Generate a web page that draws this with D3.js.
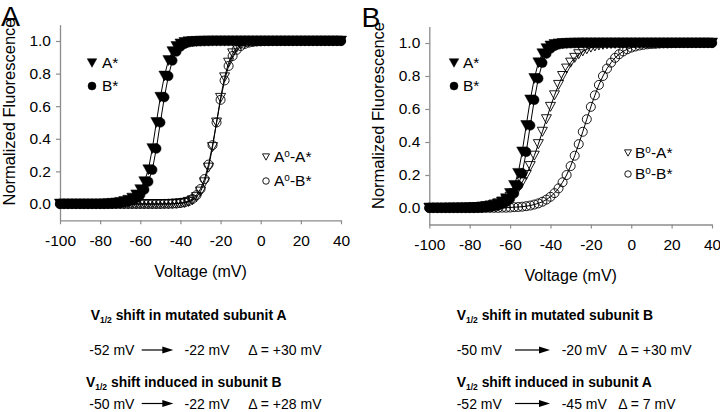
<!DOCTYPE html>
<html><head><meta charset="utf-8">
<script src="https://cdn.jsdelivr.net/npm/d3@7"></script>
<style>
body{margin:0;background:#fff}
svg{display:block}
text{font-family:"Liberation Sans",Arial,sans-serif;fill:#000}
</style>
</head><body>
<svg id="c" width="720" height="412"></svg>
<script>
// ---------------- DATA ----------------
const voltage = [
-100,-98,-96,-94,-92,-90,-88,-86,-84,-82,
-80,-78,-76,-74,-72,-70,-68,-66,-64,-62,
-60,-58,-56,-54,-52,-50,-48,-46,-44,-42,
-40,-38,-36,-34,-32,-30,-28,-26,-24,-22,
-20,-18,-16,-14,-12,-10,-8,-6,-4,-2,
0,2,4,6,8,10,12,14,16,18,
20,22,24,26,28,30,32,34,36,38,
40];
// wild-type: A* and B*
const A_star = [
0,0,0,0,0,0,0,0,0,0,
0,0.001,0.002,0.004,0.006,0.010,0.015,0.023,0.036,0.056,
0.088,0.137,0.21,0.34,0.5,0.655,0.785,0.88,0.935,0.966,
0.982,0.991,0.995,0.997,0.998,0.999,0.999,1,1,1,
1,1,1,1,1,1,1,1,1,1,
1,1,1,1,1,1,1,1,1,1,
1,1,1,1,1,1,1,1,1,1,
1];
const B_star = [
0,0,0,0,0,0,0,0,0,0,
0,0,0.001,0.002,0.004,0.006,0.010,0.015,0.023,0.036,
0.056,0.088,0.137,0.21,0.34,0.5,0.655,0.785,0.88,0.935,
0.966,0.982,0.991,0.995,0.997,0.998,0.999,0.999,1,1,
1,1,1,1,1,1,1,1,1,1,
1,1,1,1,1,1,1,1,1,1,
1,1,1,1,1,1,1,1,1,1,
1];
// panel A: mutated subunit A
const Ao_A_star = [
0,0,0,0,0,0,0,0,0,0,
0,0,0,0,0,0,0,0,0,0,
0,0,0,0,0,0,0,0,0.001,0.002,
0.004,0.007,0.013,0.023,0.042,0.076,0.133,0.223,0.349,0.5,
0.651,0.777,0.867,0.924,0.958,0.977,0.987,0.993,0.996,0.998,
0.999,0.999,1,1,1,1,1,1,1,1,
1,1,1,1,1,1,1,1,1,1,
1];
const Ao_B_star = [
0,0,0,0,0,0,0,0,0,0,
0,0,0,0,0,0,0,0,0,0,
0,0,0,0,0,0,0.001,0.001,0.002,0.003,
0.006,0.010,0.018,0.031,0.054,0.092,0.153,0.242,0.361,0.5,
0.639,0.758,0.847,0.908,0.946,0.969,0.982,0.990,0.994,0.997,
0.998,0.999,0.999,1,1,1,1,1,1,1,
1,1,1,1,1,1,1,1,1,1,
1];
// panel B: mutated subunit B
const Bo_A_star = [
0,0,0,0,0,0.001,0.001,0.001,0.002,0.002,
0.003,0.005,0.006,0.008,0.011,0.015,0.021,0.028,0.038,0.051,
0.068,0.090,0.119,0.156,0.200,0.254,0.317,0.387,0.462,0.538,
0.613,0.683,0.746,0.800,0.845,0.881,0.910,0.932,0.949,0.962,
0.972,0.979,0.985,0.989,0.992,0.994,0.995,0.997,0.998,0.998,
0.999,0.999,1,1,1,1,1,1,1,1,
1,1,1,1,1,1,1,1,1,1,
1];
const Bo_B_star = [
0,0,0,0,0,0,0,0,0,0,
0,0,0,0,0.001,0.001,0.001,0.001,0.002,0.002,
0.003,0.005,0.006,0.008,0.011,0.015,0.021,0.028,0.038,0.051,
0.068,0.090,0.119,0.156,0.200,0.254,0.317,0.387,0.462,0.538,
0.613,0.683,0.746,0.800,0.845,0.881,0.910,0.932,0.949,0.962,
0.972,0.979,0.985,0.989,0.992,0.994,0.995,0.997,0.998,0.998,
0.999,0.999,1,1,1,1,1,1,1,1,
1];
const xTicks = [-100,-80,-60,-40,-20,0,20,40];
const yTicks = [0,0.2,0.4,0.6,0.8,1.0];
const xTitle = "Voltage (mV)";
const yTitle = "Normalized Fluorescence";
const legendA = ["A*","B*","A°-A*","A°-B*"];
const legendB = ["A*","B*","B°-A*","B°-B*"];
const shiftTitlesA = ["shift in mutated subunit A","shift induced in subunit B"];
const shiftValuesA = [["-52 mV","-22 mV","\u0394 = +30 mV"],["-50 mV","-22 mV","\u0394 = +28 mV"]];
const shiftTitlesB = ["shift in mutated subunit B","shift induced in subunit A"];
const shiftValuesB = [["-50 mV","-20 mV","\u0394 = +30 mV"],["-52 mV","-45 mV","\u0394 = 7 mV"]];

[A_star,B_star,Ao_A_star,Ao_B_star,Bo_A_star,Bo_B_star].forEach(a=>{if(a.length!==voltage.length) throw new Error("len "+a.length);});

// ---------------- DRAW ----------------
const svg = d3.select("#c");
const FS = 15.5;
const triDown = (w,h)=>`M${-w/2},${-h/2}L${w/2},${-h/2}L0,${h/2}Z`;
const circ = r=>`M${-r},0A${r},${r} 0 1,0 ${r},0A${r},${r} 0 1,0 ${-r},0Z`;

function marker(g, type, filled, x, y, s){
  const d = type==="tri" ? triDown(s, s*0.9) : circ(s/2);
  g.append("path").attr("d",d).attr("transform",`translate(${x},${y})`)
   .attr("fill", filled? "#000":"none").attr("stroke","#000").attr("stroke-width", filled?0.5:0.9);
}

function drawPanel(p){
  const x = d3.scaleLinear().domain([-100,40]).range([p.x0,p.x1]);
  const y = d3.scaleLinear().domain([-0.1,1.1]).range([p.yb,p.yt]);
  const g = svg.append("g");

  const xa = g.append("g").attr("transform",`translate(0,${p.yb})`)
    .call(d3.axisBottom(x).tickValues(xTicks).tickSize(4).tickSizeOuter(0).tickFormat(d=>String(d)));
  xa.selectAll("text").attr("y",20).attr("dy","0.35em").attr("font-size",FS).attr("font-family",null);
  const ya = g.append("g").attr("transform",`translate(${p.x0},0)`)
    .call(d3.axisLeft(y).tickValues(yTicks).tickSize(4).tickSizeOuter(0).tickPadding(5).tickFormat(d3.format(".1f")));
  ya.selectAll("text").attr("font-size",FS).attr("font-family",null);
  [xa,ya].forEach(a=>{a.select(".domain").attr("stroke","#8c8c8c").attr("stroke-width",1.3);
    a.selectAll(".tick line").attr("stroke","#8c8c8c").attr("stroke-width",1.2);});

  g.append("text").attr("x",(p.x0+p.x1)/2).attr("y",p.yb+51).attr("dy","0.35em")
    .attr("text-anchor","middle").attr("font-size",16).text(xTitle);
  g.append("text").attr("transform",`translate(${p.x0-51},${p.ylabC}) rotate(-90)`).attr("dy","0.35em")
    .attr("text-anchor","middle").attr("font-size",16.5).text(yTitle);
  g.append("text").attr("x",p.lx).attr("y",p.ly).attr("font-size",28.5).text(p.label);

  const line = d3.line().x((d,i)=>x(voltage[i])).y(d=>y(d));
  p.series.forEach(s=>{
    g.append("path").attr("d",line(s.values)).attr("fill","none").attr("stroke","#000").attr("stroke-width",1);
  });
  const order = p.series.filter(s=>!s.filled).concat(p.series.filter(s=>s.filled));
  order.forEach(s=>{
    const mg = g.append("g");
    s.values.forEach((v,i)=>marker(mg, s.type, s.filled, x(voltage[i]), y(v), s.type==="tri"?(s.filled?11:10):(s.filled?9.5:9)));
  });

  // legends
  p.legend.forEach((L,k)=>{
    const s = p.series[k];
    marker(g, s.type, s.filled, L.mx, L.y, s.filled ? (s.type==="tri"?9.5:8) : (s.type==="tri"?7:6.5));
    const t = g.append("text").attr("x",L.tx).attr("y",L.y).attr("dy","0.35em").attr("font-size",FS);
    const name = p.names[k];
    if(name.includes("°")){
      const parts = name.split("°");
      t.append("tspan").text(parts[0]);
      t.append("tspan").attr("dy",-5.5).attr("font-size",10).text("o");
      t.append("tspan").attr("dy",5.5).text(parts[1]);
    } else t.text(name);
  });
}

drawPanel({label:"A", lx:1, ly:26, x0:60, x1:341, yt:24.7, yb:220.3, ylabC:112, names:legendA,
  series:[{values:A_star,type:"tri",filled:true},{values:B_star,type:"circ",filled:true},
          {values:Ao_A_star,type:"tri",filled:false},{values:Ao_B_star,type:"circ",filled:false}],
  legend:[{mx:92,tx:102,y:63},{mx:92,tx:102,y:86},{mx:266,tx:274,y:157},{mx:266,tx:274,y:181}]});
drawPanel({label:"B", lx:361.5, ly:26.5, x0:429.3, x1:712, yt:26.5, yb:224.5, ylabC:115.5, names:legendB,
  series:[{values:A_star,type:"tri",filled:true},{values:B_star,type:"circ",filled:true},
          {values:Bo_A_star,type:"tri",filled:false},{values:Bo_B_star,type:"circ",filled:false}],
  legend:[{mx:454,tx:463,y:63},{mx:454,tx:463,y:86},{mx:628,tx:635,y:153},{mx:628,tx:635,y:174}]});

// bottom V1/2 text blocks
function vTitle(x, base, rest){
  const t = svg.append("text").attr("x",x).attr("y",base).attr("font-weight","bold").attr("font-size",13.9);
  t.append("tspan").text("V");
  t.append("tspan").attr("font-size",8.5).attr("dy",3).text("1/2");
  t.append("tspan").attr("dy",-3).text(" "+rest);
}
function vRow(base, xs, vals){
  svg.append("text").attr("x",xs[0]).attr("y",base).attr("font-size",14).text(vals[0]);
  const ay = base-5;
  svg.append("line").attr("x1",xs[1]).attr("x2",xs[2]-8).attr("y1",ay).attr("y2",ay).attr("stroke","#000").attr("stroke-width",1.2);
  svg.append("path").attr("d",`M${xs[2]-11},${ay-3.5}L${xs[2]},${ay}L${xs[2]-11},${ay+3.5}Z`).attr("fill","#000");
  svg.append("text").attr("x",xs[3]).attr("y",base).attr("font-size",14).text(vals[1]);
  svg.append("text").attr("x",xs[4]).attr("y",base).attr("font-size",14).text(vals[2]);
}
vTitle(90.7, 320, shiftTitlesA[0]);
vRow(355, [89.3,141.7,173.3,184.5,248.3], shiftValuesA[0]);
vTitle(86, 386.7, shiftTitlesA[1]);
vRow(408.5, [89.3,141.7,173.3,184.5,248.3], shiftValuesA[1]);
vTitle(456.7, 320, shiftTitlesB[0]);
vRow(355, [456.7,515,550,561.7,618.3], shiftValuesB[0]);
vTitle(456.7, 386.7, shiftTitlesB[1]);
vRow(408.5, [456.7,515,550,561.7,618.3], shiftValuesB[1]);
</script>
</body></html>
